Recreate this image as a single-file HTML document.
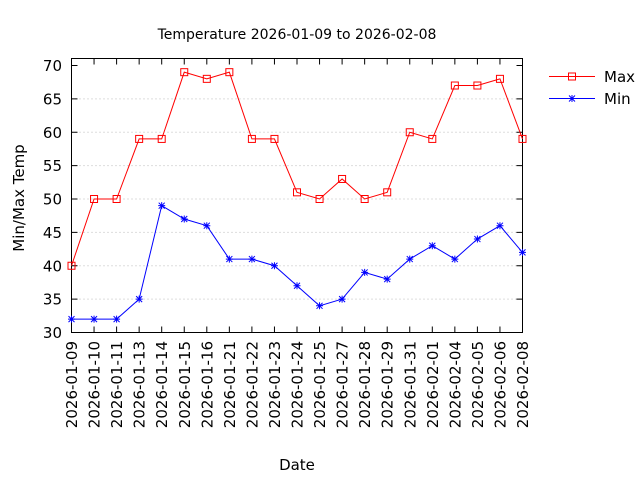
<!DOCTYPE html><html><head><style>body{margin:0;background:#fff}svg{font-family:"DejaVu Sans","Liberation Sans",sans-serif}</style></head><body>
<svg id="s" width="640" height="480" xmlns="http://www.w3.org/2000/svg"></svg>
<script>
const s=document.getElementById('s');
const d=["2026-01-09","2026-01-10","2026-01-11","2026-01-13","2026-01-14","2026-01-15","2026-01-16","2026-01-21","2026-01-22","2026-01-23","2026-01-24","2026-01-25","2026-01-27","2026-01-28","2026-01-29","2026-01-31","2026-02-01","2026-02-04","2026-02-05","2026-02-06","2026-02-08"];
const mx=[40,50,50,59,59,69,68,69,59,59,51,50,53,50,51,60,59,67,67,68,59];
const mn=[32,32,32,35,49,47,46,41,41,40,37,34,35,39,38,41,43,41,44,46,42];
const L=71.5,R=522.5,T=58.5,B=332.5;
const X=i=>L+i*(R-L)/20,Y=v=>B-(v-30)*6.675;
let h='<text x="297" y="39" font-size="14" text-anchor="middle">Temperature 2026-01-09 to 2026-02-08</text>';
for(let v=30;v<=70;v+=5){const y=Y(v);
 if(v>30&&v<70)h+=`<line x1="${L}" x2="${R}" y1="${y}" y2="${y}" stroke="#bbb" stroke-dasharray="1,3"/>`;
 h+=`<line x1="${L}" x2="${L+6}" y1="${y}" y2="${y}" stroke="#000"/><line x1="${R}" x2="${R-6}" y1="${y}" y2="${y}" stroke="#000"/>`;
 h+=`<text x="62" y="${y+5.5}" font-size="15" text-anchor="end">${v}</text>`;}
d.forEach((t,i)=>{const x=X(i);
 h+=`<line x1="${x}" x2="${x}" y1="${B}" y2="${B-6}" stroke="#000"/><line x1="${x}" x2="${x}" y1="${T}" y2="${T+6}" stroke="#000"/>`;
 h+=`<text transform="translate(${x+5.5},341) rotate(-90)" font-size="15" text-anchor="end">${t}</text>`;});
h+=`<rect x="${L}" y="${T}" width="${R-L}" height="${B-T}" fill="none" stroke="#000"/>`;
h+=`<polyline fill="none" stroke="#f00" points="${mx.map((v,i)=>X(i)+','+Y(v)).join(' ')}"/>`;
h+=`<polyline fill="none" stroke="#00f" points="${mn.map((v,i)=>X(i)+','+Y(v)).join(' ')}"/>`;
const sq=(x,y)=>`<rect x="${x-3.5}" y="${y-3.5}" width="7" height="7" fill="none" stroke="#f00"/>`;
const st=(x,y)=>`<path d="M${x-3.5} ${y}H${x+3.5}M${x} ${y-3.5}V${y+3.5}M${x-3} ${y-3}L${x+3} ${y+3}M${x-3} ${y+3}L${x+3} ${y-3}" stroke="#00f"/>`;
mx.forEach((v,i)=>h+=sq(X(i),Y(v)));mn.forEach((v,i)=>h+=st(X(i),Y(v)));
h+=`<line x1="549" x2="595" y1="76.5" y2="76.5" stroke="#f00"/>`+sq(572,76.5)+`<text x="604" y="82" font-size="15">Max</text>`;
h+=`<line x1="549" x2="595" y1="98.5" y2="98.5" stroke="#00f"/>`+st(572,98.5)+`<text x="604" y="104" font-size="15">Min</text>`;
h+=`<text transform="translate(24,198) rotate(-90)" font-size="15" text-anchor="middle">Min/Max Temp</text>`;
h+=`<text x="297" y="470" font-size="15" text-anchor="middle">Date</text>`;
s.innerHTML=h;
</script></body></html>
